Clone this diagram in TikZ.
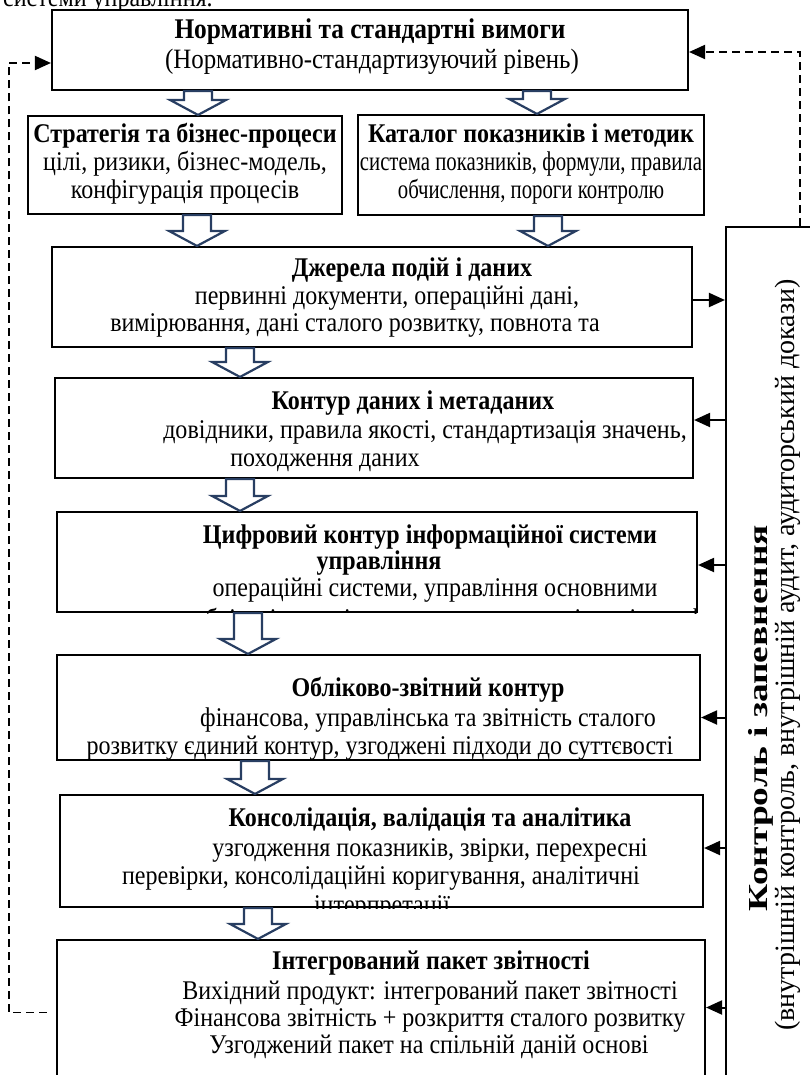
\documentclass[tikz,border=0pt]{standalone}
\usepackage{fontspec}
\setmainfont{Liberation Serif}[FakeStretch=0.89]
\newfontfamily\narrowfont{Liberation Serif}[FakeStretch=0.77]
\newfontfamily\vfont{Liberation Serif}
\usetikzlibrary{arrows.meta,calc}
\definecolor{arrowblue}{RGB}{40,62,98}
\tikzset{
  box/.style={draw=black, line width=2.1pt, fill=white, inner sep=0pt},
  tl/.style={inner sep=0pt, font=\fontsize{27}{32}\selectfont, text height=18pt, text depth=6pt},
  tb/.style={tl, font=\fontsize{27}{32}\selectfont\bfseries},
  tn/.style={tl, font=\fontsize{27}{32}\selectfont\narrowfont},
  tlbig/.style={tl, font=\fontsize{28}{33}\selectfont},
  tbbig/.style={tl, font=\fontsize{28.5}{33}\selectfont\bfseries},
  tv/.style={inner sep=0pt, font=\fontsize{28}{33}\selectfont\vfont},
  tvb/.style={inner sep=0pt, font=\fontsize{27.5}{33}\selectfont\vfont\bfseries},
  blockarrow/.style={draw=arrowblue, fill=white, line width=2.2pt, line join=miter},
  ctlarrow/.style={draw=black, line width=2pt, -{Triangle[length=16pt,width=14pt]}},
  dashedline/.style={draw=black, line width=1.9pt, dash pattern=on 8pt off 5pt, -{Triangle[length=16pt,width=14pt]}}
}
\newcommand\barrow[3]{%
  \path[blockarrow] let \p1=(#2.south), \p2=(#3.north) in
    (#1pt-14pt,\y1) -- (#1pt+14pt,\y1) -- (#1pt+14pt,\y2+15pt) -- (#1pt+28pt,\y2+15pt)
    -- (#1pt,\y2) -- (#1pt-28pt,\y2+15pt) -- (#1pt-14pt,\y2+15pt) -- cycle;}
\begin{document}
\begin{tikzpicture}[x=1pt,y=-1pt]
\useasboundingbox (0,0) rectangle (810,1075);

% cropped caption at top
\node[tl, anchor=west] (cap) at (3,1) {системи управління.};

% boxes
\node[box, minimum width=636pt, minimum height=80pt] (top) at (370,50) {};
\node[box, minimum width=314pt, minimum height=98pt] (b2) at (185,165) {};
\node[box, minimum width=346pt, minimum height=100pt] (b3) at (531,165) {};
\node[box, minimum width=640pt, minimum height=100pt] (b4) at (372,297) {};
\node[box, minimum width=638pt, minimum height=100pt] (b5) at (374,428) {};
\node[box, minimum width=640pt, minimum height=100pt] (b6) at (377,562) {};
\node[box, minimum width=643pt, minimum height=105pt] (b7) at (378.5,707.5) {};
\node[box, minimum width=643pt, minimum height=112pt] (b8) at (381.5,851) {};
\node[box, minimum width=648pt, minimum height=145pt] (b9) at (381,1012.5) {};
\node[box, minimum width=124pt, minimum height=868pt] (ctrl) at (788,661) {};

% texts
\node[tbbig] (t1a) at (370,33) {Нормативні та стандартні вимоги};
\node[tlbig] (t1b) at (372,63) {(Нормативно-стандартизуючий рівень)};

\node[tb] (t2a) at (185,137) {Стратегія та бізнес-процеси};
\node[tl] (t2b) at (185,165) {цілі, ризики, бізнес-модель,};
\node[tl] (t2c) at (185,193) {конфігурація процесів};

\node[tb] (t3a) at (531,137) {Каталог показників і методик};
\node[tn] (t3b) at (531,165) {система показників, формули, правила};
\node[tn] (t3c) at (531,193) {обчислення, пороги контролю};

\node[tb] (t4a) at (412,270) {Джерела подій і даних};
\node[tl] (t4b) at (387,298) {первинні документи, операційні дані,};
\node[tl] (t4c) at (355,325) {вимірювання, дані сталого розвитку, повнота та};

\node[tb] (t5a) at (413,403) {Контур даних і метаданих};
\node[tl] (t5b) at (425,432) {довідники, правила якості, стандартизація значень,};
\node[tl] (t5c) at (325,460) {походження даних};

\node[tb] (t6a) at (430,537) {Цифровий контур інформаційної системи};
\node[tb] (t6b) at (379,563) {управління};
\node[tl] (t6c) at (435,590) {операційні системи, управління основними};
\begin{scope}
  \clip (b6.north west) rectangle (b6.south east);
  \node[tl] (t6d) at (430,621) {даними, облікові модулі, сховища даних, аналітичні платформи};
\end{scope}

\node[tb] (t7a) at (428,690) {Обліково-звітний контур};
\node[tl] (t7b) at (428,720) {фінансова, управлінська та звітність сталого};
\node[tl] (t7c) at (380,748) {розвитку єдиний контур, узгоджені підходи до суттєвості};

\node[tb] (t8a) at (430,820) {Консолідація, валідація та аналітика};
\node[tl] (t8b) at (430,850) {узгодження показників, звірки, перехресні};
\node[tl] (t8c) at (381,878) {перевірки, консолідаційні коригування, аналітичні};
\begin{scope}
  \clip (b8.north west) rectangle (b8.south east);
  \node[tl] (t8d) at (382,907) {інтерпретації};
\end{scope}

\node[tb] (t9a) at (431,963) {Інтегрований пакет звітності};
\node[tl] (t9b) at (430,993) {Вихідний продукт: інтегрований пакет звітності};
\node[tl] (t9c) at (430,1020) {Фінансова звітність + розкриття сталого розвитку};
\node[tl] (t9d) at (429,1047) {Узгоджений пакет на спільній даній основі};

\node[tvb, rotate=90] (tca) at (761,718) {\scalebox{1.36}[1]{Контроль і запевнення}};
\node[tv, rotate=90] (tcb) at (788,655) {(внутрішній контроль, внутрішній аудит, аудиторський докази)};

% block arrows
\barrow{198}{top}{b2}
\barrow{537}{top}{b3}
\barrow{197}{b2}{b4}
\barrow{548}{b3}{b4}
\barrow{240}{b4}{b5}
\barrow{240}{b5}{b6}
\barrow{248}{b6}{b7}
\barrow{255}{b7}{b8}
\barrow{258}{b8}{b9}

% control connectors
\draw[ctlarrow] ($(b4.east)+(0,3)$) -- ($(b4.east -| ctrl.west)+(0,3)$);
\draw[ctlarrow] ($(b5.east -| ctrl.west)+(0,-8)$) -- ($(b5.east)+(0,-8)$);
\draw[ctlarrow] ($(b6.east -| ctrl.west)+(0,3)$) -- ($(b6.east)+(0,3)$);
\draw[ctlarrow] ($(b7.east -| ctrl.west)+(0,10)$) -- ($(b7.east)+(0,10)$);
\draw[ctlarrow] ($(b8.east -| ctrl.west)+(0,-3)$) -- ($(b8.east)+(0,-3)$);
\draw[ctlarrow] ($(b9.east -| ctrl.west)+(0,-5)$) -- ($(b9.east)+(0,-5)$);

% feedback dashed lines
\coordinate (lstart) at ($(b9.west)+(-9,0)$);
\draw[dashedline] (lstart) -- ++(-38,0) |- ($(top.west)+(0,13)$);
\coordinate (rstart) at ($(ctrl.north west)+(75,0)$);
\draw[dashedline] (rstart) |- ($(top.east)+(0,2)$);
\end{tikzpicture}
\end{document}
